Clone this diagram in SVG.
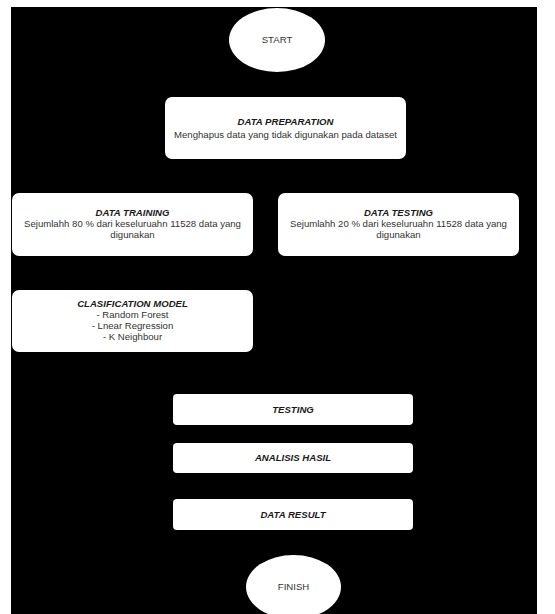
<svg xmlns="http://www.w3.org/2000/svg" width="555" height="614" viewBox="0 0 555 614">
<style>
.box{fill:#ffffff;stroke:none}
.t{font-family:"Liberation Sans",Arial,sans-serif;font-size:9.6px;fill:#333333;text-anchor:middle}
.b{font-weight:bold;font-style:italic;fill:#1a1a1a}
</style>
<rect x="0" y="0" width="555" height="614" fill="#ffffff"/>
<rect x="11" y="7" width="526" height="607" fill="#000000"/>
<g id="connectors"></g>
<g id="start">
<ellipse cx="277" cy="40" rx="48" ry="32" class="box"/>
<text x="277" y="42.5" class="t">START</text>
</g>
<g id="data-preparation">
<rect x="165" y="97" width="241" height="62" rx="7" class="box"/>
<text x="285.5" y="124.5" class="t b">DATA PREPARATION</text>
<text x="285.5" y="137.5" class="t">Menghapus data yang tidak digunakan pada dataset</text>
</g>
<g id="data-training">
<rect x="12" y="193" width="241" height="63" rx="7" class="box"/>
<text x="132.5" y="215.5" class="t b">DATA TRAINING</text>
<text x="132.5" y="226.5" class="t">Sejumlahh 80 % dari keseluruahn 11528 data yang</text>
<text x="132.5" y="237.5" class="t">digunakan</text>
</g>
<g id="data-testing">
<rect x="278" y="193" width="241" height="63" rx="7" class="box"/>
<text x="398.5" y="215.5" class="t b">DATA TESTING</text>
<text x="398.5" y="226.5" class="t">Sejumlahh 20 % dari keseluruahn 11528 data yang</text>
<text x="398.5" y="237.5" class="t">digunakan</text>
</g>
<g id="classification-model">
<rect x="12" y="290" width="241" height="62" rx="7" class="box"/>
<text x="132.5" y="306.5" class="t b">CLASIFICATION MODEL</text>
<text x="132.5" y="317.5" class="t">- Random Forest</text>
<text x="132.5" y="328.5" class="t">- Lnear Regression</text>
<text x="132.5" y="339.5" class="t">- K Neighbour</text>
</g>
<g id="testing">
<rect x="173" y="394" width="240" height="31" rx="4" class="box"/>
<text x="293" y="412.5" class="t b">TESTING</text>
</g>
<g id="analisis-hasil">
<rect x="173" y="443" width="240" height="30" rx="4" class="box"/>
<text x="293" y="461" class="t b">ANALISIS HASIL</text>
</g>
<g id="data-result">
<rect x="173" y="499" width="240" height="31" rx="4" class="box"/>
<text x="293" y="517.5" class="t b">DATA RESULT</text>
</g>
<g id="finish">
<ellipse cx="293.5" cy="587" rx="47.5" ry="32" class="box"/>
<text x="293.5" y="589.5" class="t">FINISH</text>
</g>
</svg>
